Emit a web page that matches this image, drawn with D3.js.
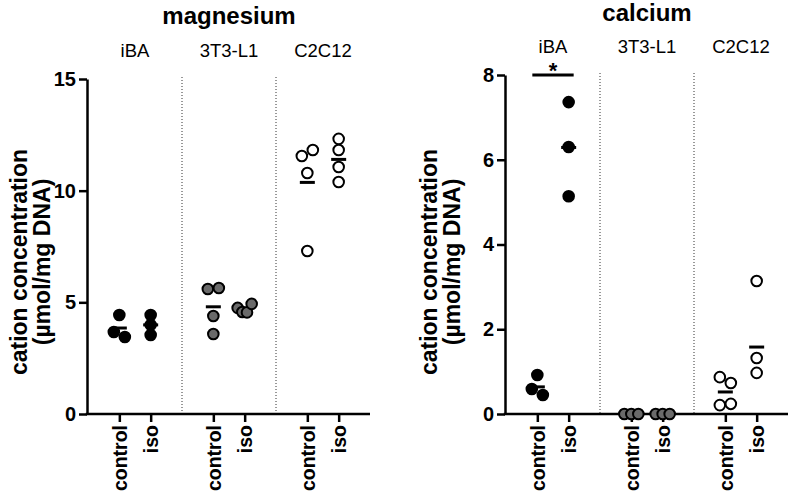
<!DOCTYPE html>
<html><head><meta charset="utf-8">
<script src="https://cdn.jsdelivr.net/npm/d3@7"></script>
<style>
body{margin:0;background:#fff}
svg{display:block}
text{font-family:"Liberation Sans",Arial,sans-serif}
</style>
</head><body>
<svg id="c" width="790" height="492"></svg>
<script>
// ---------- data ----------
const cellLines = ["iBA", "3T3-L1", "C2C12"];
const treatments = ["control", "iso"];
const mgTicks = [0, 5, 10, 15];
const caTicks = [0, 2, 4, 6, 8];
// magnesium, per cell line
const mgControl = [[4.43, 3.67, 3.45], [5.6, 5.64, 4.39, 3.58], [11.55, 11.82, 10.79, 7.3]];
const mgIso     = [[4.43, 3.99, 3.54], [4.75, 4.57, 4.55, 4.93], [12.32, 11.82, 11.06, 10.39]];
const mgMeanControl = [3.85, 4.80, 10.37];
const mgMeanIso     = [3.99, 4.70, 11.40];
// calcium, per cell line
const caControl = [[0.92, 0.59, 0.45], [0, 0, 0], [0.87, 0.73, 0.21, 0.24]];
const caIso     = [[7.36, 6.30, 5.14], [0, 0, 0], [3.14, 1.32, 0.97]];
const caMeanControl = [0.64, 0, 0.52];
const caMeanIso     = [6.29, 0, 1.58];
const caSignificance = [{cell: "iBA", label: "*", level: 8}];

// ---------- drawing ----------
const svg = d3.select("#c");
const fills = {"iBA": "#000", "3T3-L1": "#6a6a6a", "C2C12": "#fff"};
const FF = '"Liberation Sans",Arial,sans-serif';

function panel(opt) {
  const g = svg.append("g");
  const y = d3.scaleLinear().domain(opt.domain).range([414, opt.top]);
  const xg = d3.scaleBand().domain(cellLines).range([opt.x0 + 1, opt.x0 + 1 + 282]);
  const xt = d3.scalePoint().domain(treatments).range([0, xg.bandwidth()]).padding(1);

  // title + cell line labels
  g.append("text").attr("x", xg(cellLines[0]) + 141).attr("y", opt.titleY)
    .attr("text-anchor", "middle").attr("font-weight", "bold").attr("font-size", 24)
    .text(opt.title);
  cellLines.forEach(c => {
    g.append("text").attr("x", xg(c) + xg.bandwidth() / 2).attr("y", opt.catY)
      .attr("text-anchor", "middle").attr("font-size", 18.5).text(c);
  });

  // dotted separators
  cellLines.slice(1).forEach(c => {
    g.append("line").attr("x1", xg(c)).attr("x2", xg(c))
      .attr("y1", opt.top - 2).attr("y2", 414)
      .attr("stroke", "#333").attr("stroke-width", 1).attr("stroke-dasharray", "1,2");
  });

  // y axis
  const ya = g.append("g").attr("transform", `translate(${opt.x0},0)`)
    .call(d3.axisLeft(y).tickValues(opt.ticks).tickSize(8).tickSizeOuter(0).tickPadding(3));
  ya.selectAll("path,line").attr("stroke", "#000").attr("stroke-width", 2.5);
  ya.selectAll("text").attr("font-size", 20).attr("font-weight", "bold")
    .attr("font-family", FF).attr("fill", "#000");

  // x axis
  const keys = [];
  const pos = [];
  cellLines.forEach(c => treatments.forEach(t => { keys.push(c + "|" + t); pos.push(xg(c) + xt(t)); }));
  const xs = d3.scaleOrdinal().domain(keys).range(pos);
  const xa = g.append("g").attr("transform", "translate(0,414)")
    .call(d3.axisBottom(xs).tickSize(8).tickFormat(k => k.split("|")[1]));
  xa.select(".domain").remove();
  xa.selectAll("line").attr("stroke", "#000").attr("stroke-width", 2.5);
  xa.selectAll("text").attr("font-size", 19.5).attr("font-weight", "bold")
    .attr("font-family", FF).attr("fill", "#000")
    .attr("transform", "rotate(-90)").attr("text-anchor", "end")
    .attr("x", -11).attr("y", 0).attr("dy", "0.36em");
  g.append("line").attr("x1", opt.x0 - 1.25).attr("x2", xg.range()[1]).attr("y1", 414).attr("y2", 414)
    .attr("stroke", "#000").attr("stroke-width", 2.5);

  // y title
  const cy = 262;
  const yt = g.append("text").attr("transform", `translate(${opt.labelX},${cy}) rotate(-90)`)
    .attr("text-anchor", "middle").attr("font-weight", "bold").attr("font-size", 23);
  yt.append("tspan").attr("x", 0).attr("dy", "0.35em").text("cation concentration");
  yt.append("tspan").attr("x", 0).attr("dy", "1.0em").text("(\u00b5mol/mg DNA)");

  // mean lines and points
  cellLines.forEach((c, ci) => {
    treatments.forEach((t, ti) => {
      const vals = (ti === 0 ? opt.control : opt.iso)[ci];
      const mean = (ti === 0 ? opt.meanControl : opt.meanIso)[ci];
      const cx = xg(c) + xt(t);
      g.append("line").attr("x1", cx - 7.5).attr("x2", cx + 7.5)
        .attr("y1", y(mean)).attr("y2", y(mean))
        .attr("stroke", "#000").attr("stroke-width", 3);
      // simple swarm: chain-cluster points with almost equal pixel height, spread them
      const pts = vals.map((v, i) => ({v, i, py: y(v)}));
      const sorted = pts.slice().sort((a, b) => a.py - b.py);
      const clusters = [];
      sorted.forEach(p => {
        const last = clusters[clusters.length - 1];
        if (last && p.py - last[last.length - 1].py < 6.5) last.push(p); else clusters.push([p]);
      });
      clusters.forEach(cl => {
        cl.sort((a, b) => a.i - b.i);
        const n = cl.length;
        const sp = n > 1 ? Math.min(11, 14 / (n - 1)) : 0;
        cl.forEach((p, k) => { p.px = cx + (k - (n - 1) / 2) * sp; });
      });
      g.selectAll(null).data(pts).enter().append("circle")
        .attr("cx", d => d.px).attr("cy", d => d.py).attr("r", 5.3)
        .attr("fill", fills[c]).attr("stroke", "#000").attr("stroke-width", 2);
    });
  });

  // significance
  (opt.sig || []).forEach(s => {
    const x1 = xg(s.cell) + xt(treatments[0]) - 5, x2 = xg(s.cell) + xt(treatments[1]) + 5;
    g.append("line").attr("x1", x1).attr("x2", x2).attr("y1", y(s.level)).attr("y2", y(s.level))
      .attr("stroke", "#000").attr("stroke-width", 3);
    g.append("text").attr("x", (x1 + x2) / 2).attr("y", y(s.level) + 3)
      .attr("text-anchor", "middle").attr("font-weight", "bold").attr("font-size", 22).text(s.label);
  });
}

panel({title: "magnesium", x0: 87, top: 79, domain: [0, 15], ticks: mgTicks,
  titleY: 24, catY: 57, labelX: 19,
  control: mgControl, iso: mgIso, meanControl: mgMeanControl, meanIso: mgMeanIso});
panel({title: "calcium", x0: 505, top: 75, domain: [0, 8], ticks: caTicks,
  titleY: 21, catY: 53, labelX: 429,
  control: caControl, iso: caIso, meanControl: caMeanControl, meanIso: caMeanIso,
  sig: caSignificance});
</script>
</body></html>
